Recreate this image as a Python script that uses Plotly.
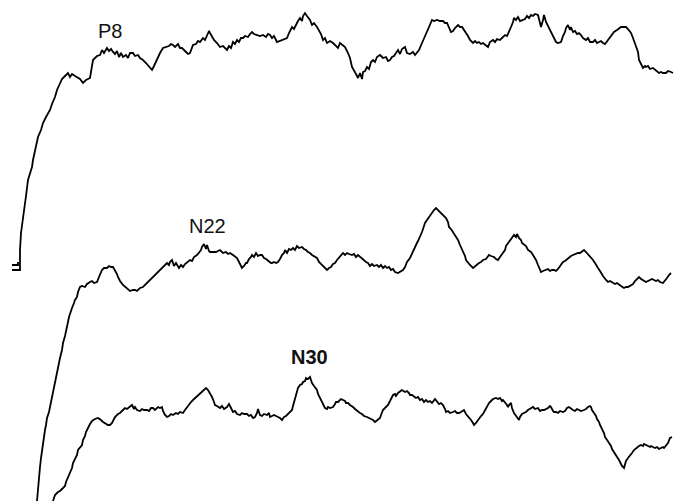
import plotly.graph_objects as go

# Trace samples: (time, amplitude) (plot units, y grows downward)
P8_MARK = [(12, 265), (18, 265), (18, 262)]
P8 = [(12,270),(20,270),(20,263),(20,250),(21,233),(23,220),(25,207),(26,196),(28,180),(30,174),(32,167),(33,160),
(35,150),(37,143),(38,137),(41,130),(43,123),(46,117),(50,110),(52,104),(55,97),(57,90),(60,83),(62,79),(63,78),
(65,76),(68,73),(70,77),(72,74),(75,76),(77,77),(80,79),(83,83),(86,80),(90,78),(91,70),(93,60),(95,58),(97,56),
(100,55),(102,50),(104,53),(107,48),(109,51),(111,49),(113,52),(115,54),(117,51),(119,57),(121,53),(123,57),
(126,55),(128,58),(130,53),(133,53),(135,56),(138,55),(140,58),(143,60),(146,63),(149,66),(152,70),(154,66),
(156,61),(158,58),(160,53),(163,48),(166,47),(169,46),(171,44),(173,45),(175,47),(178,44),(180,48),(182,48),
(185,51),(188,54),(190,53),(192,48),(193,45),(196,44),(198,41),(200,42),(203,38),(205,40),(207,35),(209,31),
(210,33),(212,37),(214,40),(217,43),(220,47),(223,46),(225,48),(227,50),(229,46),(231,48),(233,42),(235,44),
(237,40),(239,42),(241,38),(243,38),(245,36),(248,37),(250,34),(252,32),(254,34),(257,35),(260,36),(263,35),
(266,37),(268,34),(270,35),(272,38),(274,36),(277,42),(280,41),(283,40),(285,39),(287,38),(289,33),(292,27),
(294,29),(296,24),(298,21),(300,18),(302,21),(303,16),(305,13),(307,16),(309,19),(310,20),(312,25),(314,23),
(317,27),(319,30),(321,34),(323,40),(325,38),(327,43),(330,41),(333,43),(335,45),(338,48),(340,43),(343,45),
(345,47),(348,53),(350,58),(352,67),(354,70),(356,74),(358,78),(360,73),(362,79),(363,72),(365,71),(367,67),
(369,69),(371,62),(373,60),(375,62),(377,57),(380,55),(383,58),(386,57),(388,61),(390,60),(392,57),(394,56),
(396,53),(398,50),(400,54),(402,49),(405,47),(407,53),(410,54),(413,52),(415,55),(417,53),(419,50),(422,43),
(424,38),(426,33),(427,30),(429,27),(432,20),(434,21),(437,20),(440,21),(443,21),(445,23),(447,23),(449,28),
(451,32),(453,31),(455,28),(458,25),(460,27),(462,27),(464,30),(466,32),(468,36),(470,40),(473,43),(475,41),
(477,43),(479,42),(481,44),(483,43),(485,45),(488,47),(490,42),(493,40),(495,42),(497,39),(500,40),(503,37),
(505,35),(507,36),(509,32),(511,27),(513,22),(514,18),(516,20),(518,17),(520,21),(523,20),(525,19),(527,16),
(529,18),(531,15),(533,16),(535,14),(538,15),(540,23),(541,27),(543,20),(544,15),(546,22),(548,26),(549,28),
(551,31),(553,35),(554,38),(556,42),(558,43),(561,42),(563,36),(565,32),(566,28),(568,25),(570,30),(571,27),
(573,32),(575,31),(577,34),(579,33),(581,35),(583,38),(586,40),(588,38),(590,42),(593,42),(595,40),(597,43),
(599,42),(601,41),(603,43),(605,44),(608,40),(610,37),(612,35),(614,32),(617,30),(619,28),(621,27),(624,27),
(626,27),(628,29),(630,31),(631,33),(633,38),(635,43),(636,47),(638,52),(639,60),(641,64),(643,68),(645,66),
(646,67),(648,66),(650,69),(653,68),(655,70),(657,71),(659,73),(661,72),(663,73),(666,73),(668,71),(671,72),(673,73)]

N22 = [(37,501),(38,487),(39,477),(40,467),(41,458),(42,450),(44,440),(45,430),(46,425),(47,418),(49,412),(50,407),
(52,398),(53,392),(55,380),(57,372),(58,365),(60,358),(62,350),(63,343),(65,336),(66,330),(68,322),(69,317),
(70,313),(72,308),(74,303),(75,300),(77,297),(78,292),(80,287),(82,286),(85,287),(87,284),(90,282),(92,281),
(94,283),(97,282),(99,277),(100,274),(102,270),(104,268),(107,268),(109,266),(111,267),(113,267),(115,270),
(117,274),(118,277),(120,281),(123,285),(125,287),(127,289),(128,290),(130,291),(133,290),(135,290),(137,291),
(140,288),(143,287),(145,285),(147,283),(150,280),(152,279),(154,276),(157,273),(159,272),(161,269),(163,267),
(165,266),(167,263),(169,265),(170,262),(172,260),(174,266),(176,263),(177,265),(179,268),(181,265),(183,267),
(185,264),(187,262),(190,260),(192,261),(194,257),(197,255),(199,252),(201,250),(202,247),(204,244),(206,249),
(207,245),(209,251),(210,252),(213,252),(216,252),(218,251),(220,250),(223,253),(226,252),(228,254),(230,253),
(233,255),(235,257),(237,258),(239,262),(241,266),(242,268),(244,266),(246,263),(247,263),(249,259),(251,257),
(252,255),(254,257),(256,253),(258,256),(260,255),(262,255),(264,258),(266,259),(267,260),(269,262),(271,263),
(272,263),(274,262),(276,263),(278,262),(280,259),(282,255),(284,253),(285,250),(287,253),(289,249),(291,250),
(293,248),(295,250),(297,246),(299,248),(302,247),(304,249),(306,250),(308,252),(310,253),(312,255),(314,256),
(317,258),(319,262),(321,264),(323,266),(325,268),(327,270),(329,268),(331,267),(333,264),(335,263),(337,260),
(339,258),(341,255),(343,253),(345,255),(347,253),(349,254),(352,255),(354,254),(356,257),(358,255),(360,257),
(362,259),(364,260),(366,262),(368,263),(370,266),(372,264),(374,266),(377,265),(379,267),(381,265),(383,268),
(385,266),(387,268),(389,267),(391,270),(393,269),(395,272),(398,273),(400,272),(403,270),(405,267),(407,262),
(410,258),(412,253),(414,249),(416,245),(418,241),(420,237),(422,232),(424,226),(425,223),(427,220),(429,217),
(431,214),(432,212),(434,210),(436,208),(438,210),(440,212),(442,215),(444,217),(446,218),(448,222),(449,227),
(451,229),(453,232),(456,237),(458,240),(460,245),(462,249),(463,252),(465,256),(466,260),(468,263),(470,265),
(473,268),(475,266),(477,265),(479,263),(481,262),(483,260),(486,259),(489,255),(491,256),(494,257),(496,259),
(498,260),(500,257),(503,253),(505,250),(506,246),(508,243),(510,240),(512,238),(514,235),(516,237),(517,234),
(519,238),(521,240),(522,243),(524,245),(526,246),(528,250),(531,252),(533,255),(535,258),(536,260),(538,265),
(540,270),(541,272),(543,271),(546,270),(548,269),(550,271),(552,270),(554,270),(556,271),(558,269),(561,265),
(563,262),(565,261),(567,259),(569,257),(571,256),(573,255),(575,254),(578,253),(580,253),(582,251),(584,250),
(586,252),(588,254),(589,255),(591,258),(593,260),(595,263),(596,265),(598,268),(600,271),(601,273),(603,276),
(606,280),(608,282),(610,281),(613,283),(615,284),(617,283),(619,285),(621,286),(624,288),(626,287),(628,287),
(631,285),(633,284),(635,281),(637,279),(639,277),(641,279),(643,280),(646,282),(648,281),(650,280),(652,279),
(654,280),(656,281),(658,280),(660,282),(663,283),(665,281),(667,278),(669,275),(671,273)]

N30 = [(53,501),(55,495),(58,492),(60,491),(63,488),(65,486),(66,482),(68,477),(70,472),(72,468),(73,463),(75,458),
(77,455),(78,450),(80,447),(82,445),(83,440),(85,436),(86,432),(88,427),(90,424),(92,421),(93,420),(95,419),
(98,418),(100,419),(101,420),(103,422),(105,423),(108,425),(110,425),(112,423),(114,419),(115,417),(118,414),
(120,413),(123,410),(125,408),(127,409),(130,406),(132,405),(134,409),(135,407),(137,410),(140,411),(142,409),
(144,410),(147,410),(149,411),(151,408),(153,408),(155,410),(158,407),(160,408),(162,407),(163,411),(165,415),
(167,417),(169,416),(171,414),(173,415),(176,413),(178,414),(180,412),(183,413),(185,410),(187,407),(189,405),
(191,402),(193,400),(195,398),(197,396),(200,393),(202,391),(204,389),(206,388),(208,390),(210,393),(212,397),
(214,402),(215,405),(217,406),(220,408),(222,406),(224,409),(227,407),(229,404),(230,406),(232,411),(233,412),
(235,411),(237,414),(240,415),(242,413),(244,414),(247,414),(249,416),(251,415),(253,418),(255,417),(257,413),
(258,409),(260,415),(262,416),(264,414),(267,415),(269,413),(270,417),(272,416),(274,415),(276,416),(278,417),
(280,418),(282,420),(284,417),(286,416),(287,415),(289,413),(290,412),(292,410),(293,406),(294,402),(295,400),
(296,396),(297,392),(298,388),(300,385),(302,384),(303,382),(305,381),(306,378),(308,379),(310,377),(311,381),
(312,383),(314,386),(316,388),(317,390),(318,394),(319,396),(320,398),(322,402),(323,405),(325,408),(327,409),
(328,407),(330,408),(332,407),(333,407),(335,404),(336,402),(338,402),(340,400),(341,399),(343,400),(345,401),
(346,403),(348,403),(350,405),(352,406),(353,407),(355,409),(357,411),(360,413),(362,414),(364,416),(367,417),
(369,418),(371,419),(373,420),(375,422),(378,420),(380,418),(381,415),(383,410),(385,408),(387,406),(388,405),
(390,401),(392,397),(393,395),(395,394),(396,396),(398,393),(400,391),(402,390),(405,392),(407,391),(409,393),
(410,395),(412,395),(414,397),(416,398),(418,397),(420,400),(422,399),(424,402),(426,400),(428,402),(430,401),
(432,403),(435,399),(437,402),(439,404),(441,403),(443,405),(445,409),(446,412),(448,411),(450,413),(453,412),
(455,411),(457,413),(459,413),(461,412),(463,410),(464,410),(466,414),(468,416),(469,417),(471,420),(473,423),
(474,425),(476,423),(478,420),(479,418),(481,416),(483,414),(484,412),(486,408),(488,405),(489,403),(491,401),
(493,399),(496,398),(498,399),(500,398),(502,401),(503,400),(505,402),(507,405),(508,407),(509,405),(511,403),
(512,408),(514,413),(516,416),(517,418),(519,420),(520,417),(522,414),(524,413),(526,412),(528,410),(530,409),
(531,408),(533,407),(535,409),(537,408),(538,408),(540,411),(542,410),(544,410),(546,409),(548,408),(550,406),
(551,407),(553,411),(554,412),(556,412),(558,413),(560,411),(563,412),(565,411),(567,408),(569,407),(571,409),
(573,410),(575,411),(577,409),(579,410),(581,411),(584,410),(586,409),(588,407),(590,406),(591,407),(592,410),
(594,413),(596,416),(597,419),(599,422),(600,425),(602,429),(604,433),(605,437),(607,440),(609,442),(611,446),
(612,449),(614,452),(616,455),(617,456),(619,460),(621,464),(622,466),(624,468),(625,464),(626,461),(628,458),
(630,456),(632,453),(634,450),(636,448),(637,447),(639,446),(641,445),(643,446),(644,444),(646,445),(648,446),
(650,447),(651,446),(653,447),(655,448),(657,447),(659,449),(661,448),(663,447),(664,448),(666,445),(668,443),
(670,438),(672,437)]

LABELS = ["P8", "N22", "N30"]
LABEL_POS = [(110, 31), (207, 226), (309, 357)]
LABEL_BOLD = [False, False, True]

fig = go.Figure()
for pts in [P8_MARK, P8, N22, N30]:
    xs, ys = zip(*pts)
    fig.add_trace(go.Scatter(x=list(xs), y=list(ys), mode="lines",
                             line=dict(color="black", width=1.8),
                             hoverinfo="skip", showlegend=False))

for txt, (lx, ly), bold in zip(LABELS, LABEL_POS, LABEL_BOLD):
    fig.add_annotation(x=lx, y=ly, xref="x", yref="y", showarrow=False,
                       text=f"<b>{txt}</b>" if bold else txt,
                       font=dict(family="Liberation Sans, Arial, sans-serif", size=20, color="#111111"),
                       xanchor="center", yanchor="middle")

fig.update_layout(
    width=676, height=501,
    margin=dict(l=0, r=0, t=0, b=0),
    paper_bgcolor="white", plot_bgcolor="white",
    xaxis=dict(range=[0, 676], visible=False, fixedrange=True),
    yaxis=dict(range=[501, 0], visible=False, fixedrange=True),
)
fig.write_html("out.html")
